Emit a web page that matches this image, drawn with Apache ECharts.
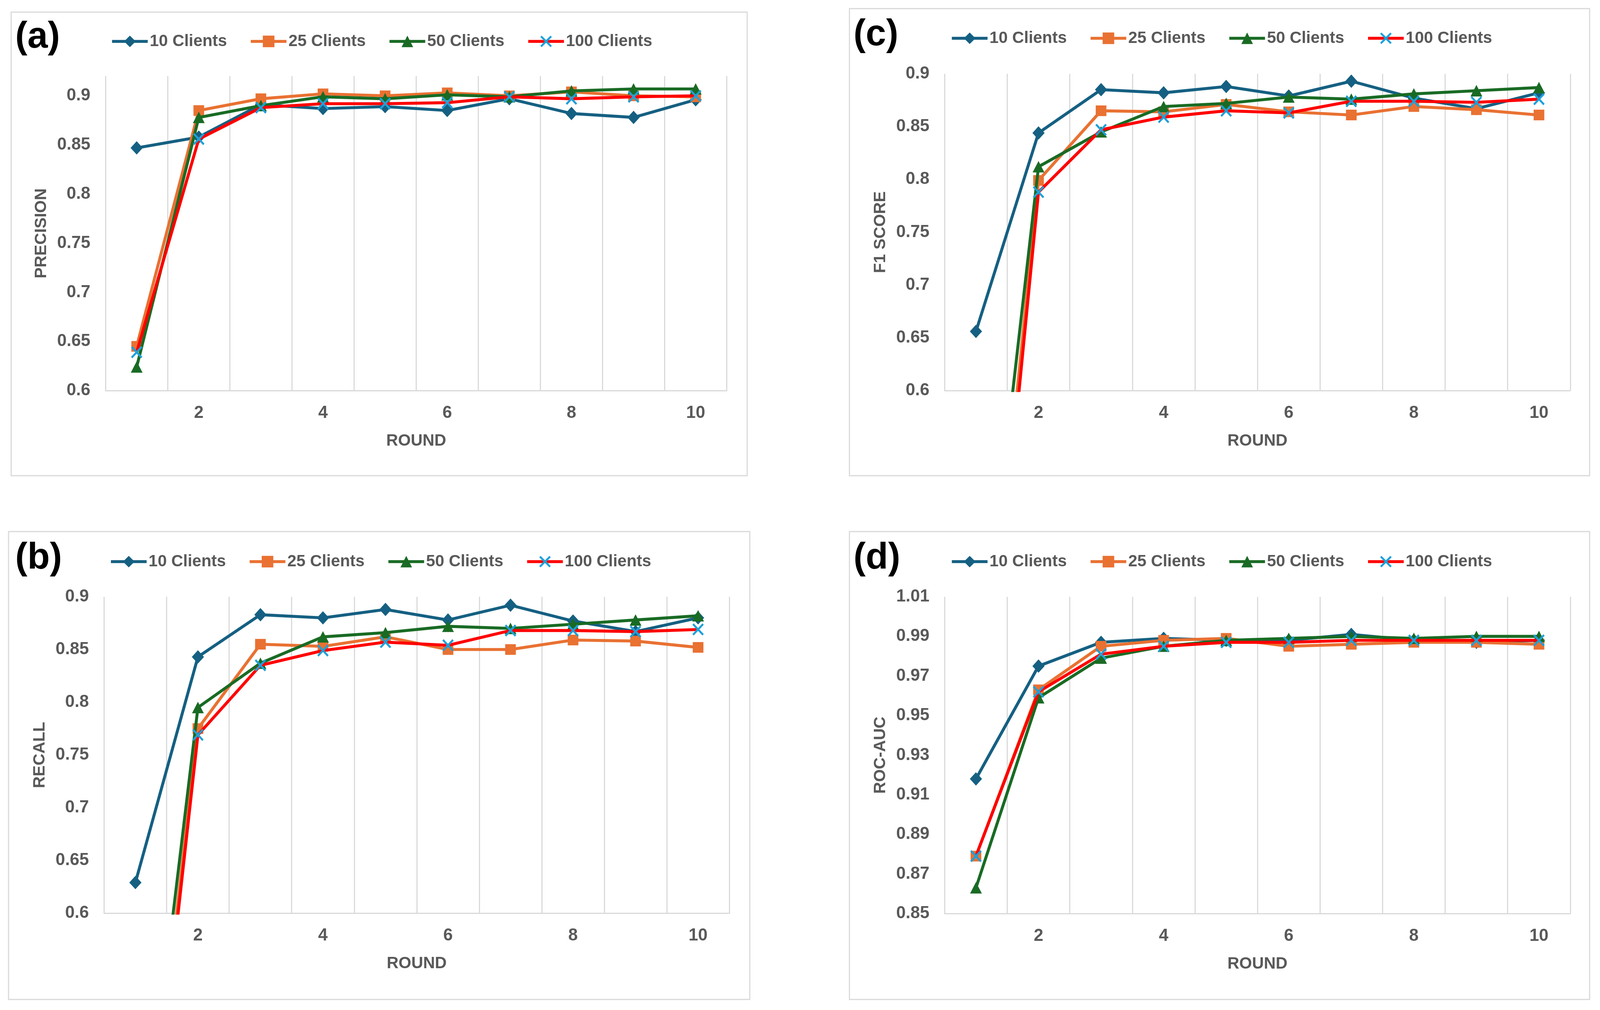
<!DOCTYPE html>
<html>
<head>
<meta charset="utf-8">
<script src="https://cdn.jsdelivr.net/npm/echarts@6/dist/echarts.min.js"></script>
<style>
html,body{margin:0;padding:0;background:#ffffff;overflow:hidden;}
#chart{width:4302px;height:2586px;}
</style>
</head>
<body>
<div id="chart"></div>
<script>
// ---------- data ----------
const rounds = ['1','2','3','4','5','6','7','8','9','10'];
const seriesNames = ['10 Clients','25 Clients','50 Clients','100 Clients'];

// (a) Precision
const precision10  = [0.847, 0.858, 0.891, 0.887, 0.889, 0.885, 0.897, 0.882, 0.878, 0.896];
const precision25  = [0.645, 0.885, 0.897, 0.902, 0.900, 0.903, 0.900, 0.904, 0.900, 0.899];
const precision50  = [0.624, 0.878, 0.890, 0.899, 0.897, 0.901, 0.899, 0.905, 0.907, 0.907];
const precision100 = [0.639, 0.856, 0.888, 0.892, 0.892, 0.893, 0.899, 0.897, 0.899, 0.900];

// (b) Recall
const recall10  = [0.629, 0.843, 0.883, 0.880, 0.888, 0.878, 0.892, 0.877, 0.867, 0.880];
const recall25  = [0.261, 0.775, 0.855, 0.853, 0.862, 0.850, 0.850, 0.859, 0.858, 0.852];
const recall50  = [0.302, 0.795, 0.837, 0.862, 0.866, 0.872, 0.870, 0.874, 0.878, 0.882];
const recall100 = [0.235, 0.769, 0.835, 0.849, 0.857, 0.854, 0.868, 0.868, 0.867, 0.869];

// (c) F1 score
const f1_10  = [0.656, 0.844, 0.885, 0.882, 0.888, 0.879, 0.893, 0.877, 0.867, 0.882];
const f1_25  = [0.216, 0.799, 0.865, 0.864, 0.871, 0.864, 0.861, 0.869, 0.866, 0.861];
const f1_50  = [0.295, 0.812, 0.845, 0.869, 0.872, 0.878, 0.876, 0.881, 0.884, 0.887];
const f1_100 = [0.183, 0.788, 0.847, 0.859, 0.865, 0.863, 0.874, 0.874, 0.873, 0.876];

// (d) ROC-AUC
const auc10  = [0.918, 0.975, 0.987, 0.989, 0.988, 0.988, 0.991, 0.988, 0.987, 0.988];
const auc25  = [0.879, 0.963, 0.985, 0.988, 0.989, 0.985, 0.986, 0.987, 0.987, 0.986];
const auc50  = [0.863, 0.959, 0.979, 0.985, 0.988, 0.989, 0.990, 0.989, 0.990, 0.990];
const auc100 = [0.879, 0.962, 0.981, 0.985, 0.987, 0.987, 0.988, 0.988, 0.988, 0.988];

const panelLabels = ['(a)','(b)','(c)','(d)'];
const yNames = ['PRECISION','RECALL','F1 SCORE','ROC-AUC'];
const xName = 'ROUND';

// ---------- fit the 4302 x 2586 design to the real viewport ----------
const VW = window.innerWidth || 4302;
const VH = window.innerHeight || 2586;
const SX = VW / 4302, SY = VH / 2586;
const SF = Math.min(SX, SY);                 // fonts / strokes
const SM = Math.sqrt(SX * SY);               // marker sizes
const X = (v) => v * SX, Y = (v) => v * SY, F = (v) => v * SF, M = (v) => v * SM;
const el = document.getElementById('chart');
el.style.width = VW + 'px';
el.style.height = VH + 'px';

// ---------- styling ----------
const FONT = '"Liberation Sans", Arial, sans-serif';
const GRAY = '#595959';
const GRID_GRAY = '#D9D9D9';
const lineColors = ['#156082','#E97132','#196B24','#FF0000'];
const markerColors = ['#156082','#E97132','#196B24','#1FA0D8'];
const X_PATH = 'path://M0,1.2 L1.2,0 L10,8.8 L8.8,10 Z M8.8,0 L10,1.2 L1.2,10 L0,8.8 Z';
const symbols = ['diamond','rect','triangle', X_PATH];
const symbolSizes = [[32,35],[28,28],[31,30],[30,32]];
const LINE_W = 8;

const panels = [
  { data:[precision10,precision25,precision50,precision100], grid:{left:284,top:195,width:1670,height:805},
    y:{min:0.6,max:0.92,interval:0.05}, hideMax:true, legend:{left:292,top:80}, label:{x:41,y:96},
    border:{x:30,y:31,width:1979,height:1187} },
  { data:[recall10,recall25,recall50,recall100], grid:{left:280,top:1528,width:1681,height:810},
    y:{min:0.6,max:0.9,interval:0.05}, legend:{left:289,top:1412}, label:{x:41,y:1430},
    border:{x:23,y:1361,width:1993,height:1198} },
  { data:[f1_10,f1_25,f1_50,f1_100], grid:{left:2540,top:189,width:1682,height:811},
    y:{min:0.6,max:0.9,interval:0.05}, legend:{left:2550,top:72}, label:{x:2295,y:90},
    border:{x:2284,y:22,width:1990,height:1196} },
  { data:[auc10,auc25,auc50,auc100], grid:{left:2540,top:1528,width:1682,height:811},
    y:{min:0.85,max:1.01,interval:0.01}, odd:true, legend:{left:2550,top:1412}, label:{x:2295,y:1430},
    border:{x:2284,y:1361,width:1990,height:1198} }
];

const grids = [], xAxes = [], yAxes = [], series = [], legends = [], graphics = [];

panels.forEach((p, i) => {
  grids.push({left:X(p.grid.left), top:Y(p.grid.top), width:X(p.grid.width), height:Y(p.grid.height)});
  xAxes.push({
    type:'category', gridIndex:i, data:rounds, boundaryGap:true,
    name:xName, nameLocation:'middle', nameGap:Y(108),
    nameTextStyle:{fontFamily:FONT, fontWeight:'bold', fontSize:F(44), color:GRAY},
    axisLine:{show:true, lineStyle:{color:GRID_GRAY, width:F(3)}},
    axisTick:{show:false, interval:0},
    splitLine:{show:true, interval:0, lineStyle:{color:GRID_GRAY, width:F(3)}},
    axisLabel:{interval:(idx)=> idx % 2 === 1, margin:Y(36), fontFamily:FONT, fontWeight:'bold', fontSize:F(46), color:GRAY}
  });
  const yLabel = {margin:X(41), fontFamily:FONT, fontWeight:'bold', fontSize:F(46), color:GRAY};
  if (p.hideMax) yLabel.showMaxLabel = false;
  if (p.odd) {
    yLabel.formatter = (v) => { const k = Math.round(v*100); return (k % 2 === 1) ? v.toFixed(2) : ''; };
  }
  yAxes.push({
    type:'value', gridIndex:i, min:p.y.min, max:p.y.max, interval:p.y.interval,
    name:yNames[i], nameLocation:'middle', nameGap:X(150), nameRotate:90,
    nameTextStyle:{fontFamily:FONT, fontWeight:'bold', fontSize:F(44), color:GRAY},
    axisLine:{show:false}, axisTick:{show:false}, splitLine:{show:false},
    axisLabel:yLabel
  });
  p.data.forEach((arr, s) => {
    series.push({
      type:'line', name:seriesNames[s], xAxisIndex:i, yAxisIndex:i, data:arr,
      symbol:symbols[s], symbolSize:symbolSizes[s].map(M), showAllSymbol:true, clip:true,
      lineStyle:{color:lineColors[s], width:F(LINE_W)},
      itemStyle:{color:markerColors[s]},
      emphasis:{disabled:true}, animation:false, z:2+s
    });
  });
  legends.push({
    left:X(p.legend.left), top:Y(p.legend.top), orient:'horizontal',
    data:seriesNames, itemWidth:X(96), itemHeight:M(38), itemGap:X(60),
    selectedMode:false,
    lineStyle:{width:F(LINE_W)},
    textStyle:{fontFamily:FONT, fontWeight:'bold', fontSize:F(44), color:GRAY}
  });
  graphics.push({
    type:'rect', silent:true,
    shape:{x:X(p.border.x), y:Y(p.border.y), width:X(p.border.width), height:Y(p.border.height)},
    style:{fill:'none', stroke:GRID_GRAY, lineWidth:F(3)}
  });
  graphics.push({
    type:'text', silent:true,
    style:{x:X(p.label.x), y:Y(p.label.y), text:panelLabels[i], fill:'#000000',
      font:'bold ' + M(96) + 'px ' + FONT, verticalAlign:'middle', align:'left'}
  });
});

const chart = echarts.init(el, null, {renderer:'canvas'});
chart.setOption({
  backgroundColor:'#ffffff',
  animation:false,
  grid:grids, xAxis:xAxes, yAxis:yAxes, series:series, legend:legends,
  graphic:graphics
});
</script>
</body>
</html>
